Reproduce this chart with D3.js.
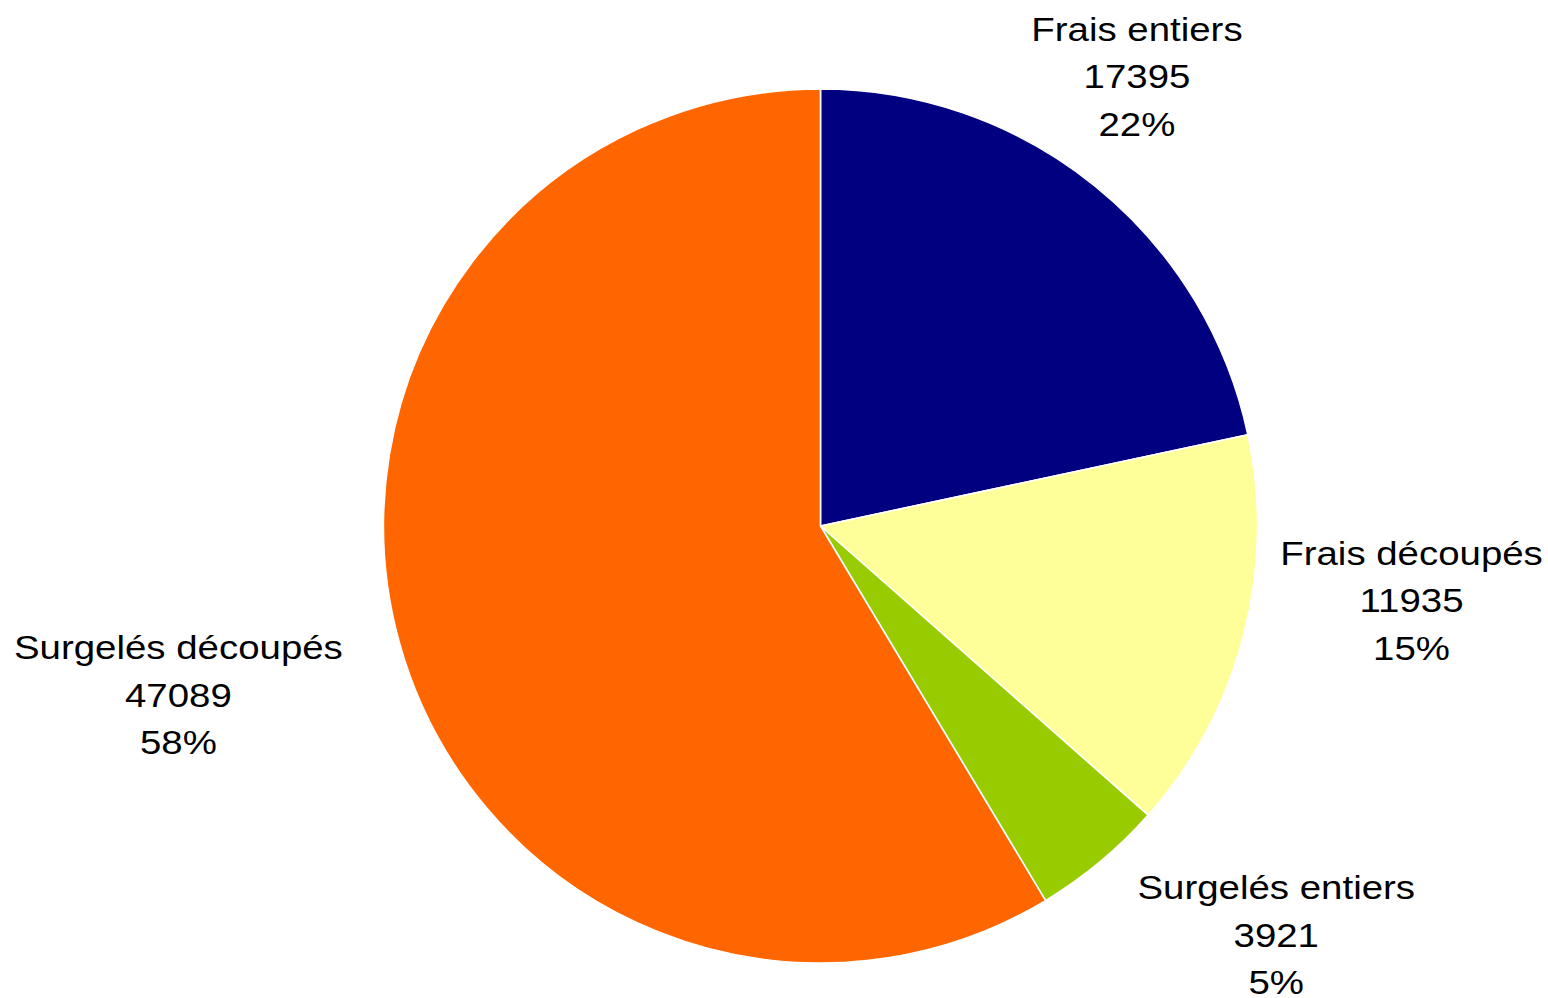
<!DOCTYPE html>
<html>
<head>
<meta charset="utf-8">
<script src="https://cdn.jsdelivr.net/npm/d3@7"></script>
<style>
  html, body { margin: 0; padding: 0; background: #ffffff; }
  svg { display: block; }
</style>
</head>
<body>
<svg id="chart" width="1548" height="998"></svg>
<script>
// ---- data ----
const categories = ["Frais entiers", "Frais découpés", "Surgelés entiers", "Surgelés découpés"];
const values = [17395, 11935, 3921, 47089];
const percentLabels = ["22%", "15%", "5%", "58%"];
const colors = ["#000080", "#FFFF99", "#99CC00", "#FF6600"];

// ---- layout ----
const W = 1548, H = 998;
const cx = 820.5, cy = 526, R = 437;
const fontSize = 34, lineGap = 47.5, stretch = 1.13;
// label block offsets relative to the slice's outer mid-point
const labelNudge = [[41.6, -110], [168.3, -36.8], [176.1, 72.9], [-221, 51.8]];

const svg = d3.select("#chart");
svg.append("rect").attr("width", W).attr("height", H).attr("fill", "#fff");

const pie = d3.pie().sort(null).value(d => d).startAngle(0).endAngle(2 * Math.PI);
const arcs = pie(values);
const arc = d3.arc().innerRadius(0).outerRadius(R);
const edge = d3.arc().innerRadius(R).outerRadius(R);

const g = svg.append("g").attr("transform", `translate(${cx},${cy})`);
g.selectAll("path.slice")
  .data(arcs)
  .enter().append("path")
  .attr("class", "slice")
  .attr("d", arc)
  .attr("fill", (d, i) => colors[i])
  .attr("stroke", "#ffffff")
  .attr("stroke-width", 1.6)
  .attr("stroke-linejoin", "round");

const labels = g.selectAll("g.label")
  .data(arcs)
  .enter().append("g")
  .attr("class", "label")
  .attr("transform", (d, i) => {
    const c = edge.centroid(d);
    return `translate(${c[0] + labelNudge[i][0]},${c[1] + labelNudge[i][1]}) scale(${stretch},1)`;
  });

labels.each(function(d, i) {
  const lines = [categories[i], String(values[i]), percentLabels[i]];
  const sel = d3.select(this);
  lines.forEach((t, k) => {
    sel.append("text")
      .attr("x", 0)
      .attr("y", (k - 1) * lineGap + fontSize * 0.358)
      .attr("text-anchor", "middle")
      .attr("font-family", "'Liberation Sans', Arial, sans-serif")
      .attr("font-size", fontSize)
      .attr("fill", "#000")
      .text(t);
  });
});
</script>
</body>
</html>
